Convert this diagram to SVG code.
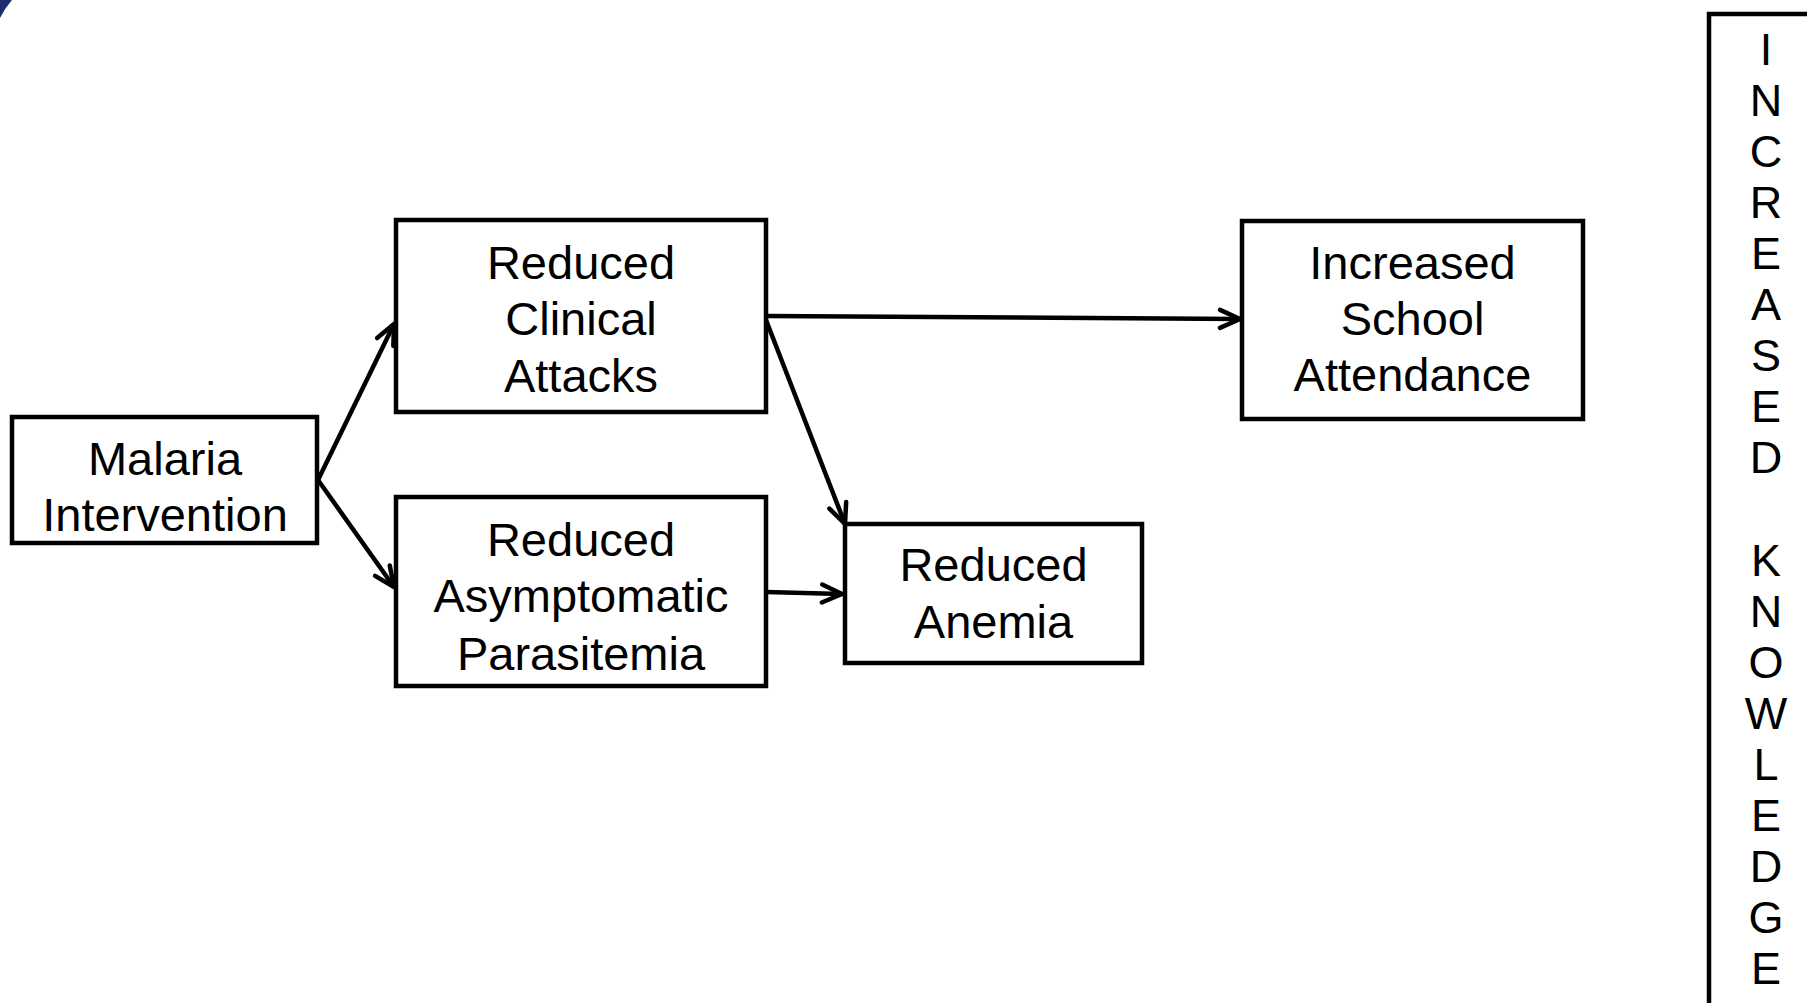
<svg xmlns="http://www.w3.org/2000/svg" width="1807" height="1003" viewBox="0 0 1807 1003">
  <style>
    .box { fill: #ffffff; stroke: #000000; stroke-width: 4.5; }
    .lbl { font-family: "Liberation Sans", Arial, sans-serif; font-size: 47px; fill: #000000; text-anchor: middle; }
    .vt { font-family: "Liberation Sans", Arial, sans-serif; font-size: 45px; fill: #000000; text-anchor: middle; }
    .conn { stroke: #000000; stroke-width: 4.5; fill: none; marker-end: url(#arr); }
  </style>
  <defs>
    <marker id="arr" markerUnits="userSpaceOnUse" viewBox="-26 -14 30 28" refX="0" refY="0" markerWidth="30" markerHeight="28" orient="auto" overflow="visible">
      <path d="M -20 -9 L 0 0 L -20 9" fill="none" stroke="#000000" stroke-width="4.5" stroke-linecap="round" stroke-linejoin="round"/>
    </marker>
  </defs>
  <rect width="1807" height="1003" fill="#ffffff"/>
  <path d="M 0 0 L 12 0 Q 5 8 0 18 Z" fill="#1b2f6e"/>

  <g id="connectors">
    <line class="conn" x1="318" y1="480" x2="394" y2="324"/>
    <line class="conn" x1="318" y1="480" x2="394" y2="587"/>
    <line class="conn" x1="766" y1="316" x2="1240" y2="319"/>
    <line class="conn" x1="766" y1="320" x2="845" y2="524"/>
    <line class="conn" x1="766" y1="592" x2="842" y2="594"/>
  </g>

  <g id="malaria">
    <rect class="box" x="12" y="417" width="305" height="126"/>
    <text class="lbl" x="165" y="475">Malaria</text>
    <text class="lbl" x="165" y="531">Intervention</text>
  </g>

  <g id="clinical">
    <rect class="box" x="396" y="220" width="370" height="192"/>
    <text class="lbl" x="581" y="279">Reduced</text>
    <text class="lbl" x="581" y="335">Clinical</text>
    <text class="lbl" x="581" y="392">Attacks</text>
  </g>

  <g id="asymptomatic">
    <rect class="box" x="396" y="497" width="370" height="189"/>
    <text class="lbl" x="581" y="556">Reduced</text>
    <text class="lbl" x="581" y="612">Asymptomatic</text>
    <text class="lbl" x="581" y="670">Parasitemia</text>
  </g>

  <g id="anemia">
    <rect class="box" x="845" y="524" width="297" height="139"/>
    <text class="lbl" x="993.5" y="581">Reduced</text>
    <text class="lbl" x="993.5" y="638">Anemia</text>
  </g>

  <g id="school">
    <rect class="box" x="1242" y="221" width="341" height="198"/>
    <text class="lbl" x="1412.5" y="279">Increased</text>
    <text class="lbl" x="1412.5" y="335">School</text>
    <text class="lbl" x="1412.5" y="391">Attendance</text>
  </g>

  <g id="knowledge">
    <rect class="box" x="1709" y="14" width="150" height="1000"/>
    <text class="vt" x="1766" y="65">I</text>
    <text class="vt" x="1766" y="116">N</text>
    <text class="vt" x="1766" y="167">C</text>
    <text class="vt" x="1766" y="218">R</text>
    <text class="vt" x="1766" y="269">E</text>
    <text class="vt" x="1766" y="320">A</text>
    <text class="vt" x="1766" y="371">S</text>
    <text class="vt" x="1766" y="422">E</text>
    <text class="vt" x="1766" y="473">D</text>
    <text class="vt" x="1766" y="576">K</text>
    <text class="vt" x="1766" y="627">N</text>
    <text class="vt" x="1766" y="678">O</text>
    <text class="vt" x="1766" y="729">W</text>
    <text class="vt" x="1766" y="780">L</text>
    <text class="vt" x="1766" y="831">E</text>
    <text class="vt" x="1766" y="882">D</text>
    <text class="vt" x="1766" y="933">G</text>
    <text class="vt" x="1766" y="984">E</text>
  </g>
</svg>
